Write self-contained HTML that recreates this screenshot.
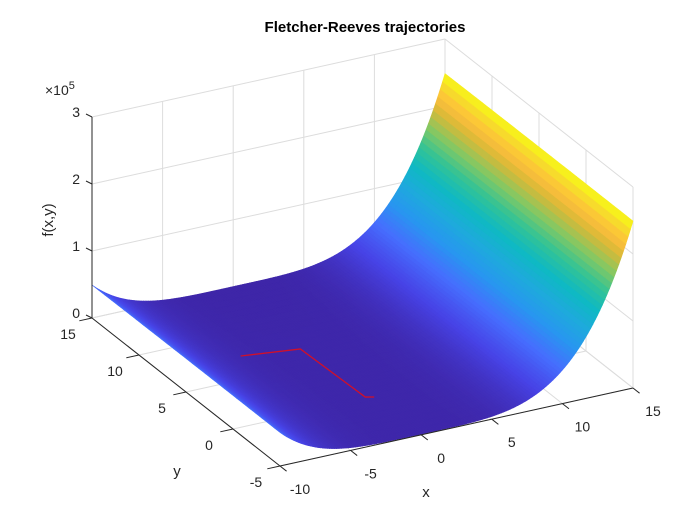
<!DOCTYPE html>
<html><head><meta charset="utf-8"><style>
body{margin:0;background:#fff;font-family:"Liberation Sans",Arial,sans-serif}
svg text{font-family:"Liberation Sans",Arial,sans-serif;fill:#262626}
</style></head><body>
<svg id="chart" width="700" height="525" viewBox="0 0 700 525" xmlns="http://www.w3.org/2000/svg">
<rect width="700" height="525" fill="#fff"/>
<text x="365" y="32" font-size="15" font-weight="bold" text-anchor="middle" style="fill:#000">Fletcher-Reeves trajectories</text>
<g id="grid"></g>
<g id="surf"></g>
<g id="traj"></g>
<g id="axes"></g>
</svg>
<script>
const xTicks=[-10,-5,0,5,10,15];
const yTicks=[-5,0,5,10,15];
const zTicks=[0,1,2,3];
const trajX=[-4.6,-0.7,-0.5,0.0];
const trajY=[7.3,6.8,0.2,0.0];
const xCoef=4.9, yCoef=-4;
function f(x,y){return xCoef*Math.pow(x,4)+yCoef*y*y+1200;}
const X0=-10,X1=15,Y0=-5,Y1=15,ZMAX=3e5;
function P(x,y,z){const a=(x-X0)/(X1-X0),b=(y-Y0)/(Y1-Y0),c=z/ZMAX;
 return [280+353*a-188*b, 466-78*a-148*b-201*c];}
function depth(x,y,z){return -0.378*(x-X0)/(X1-X0)-0.710*(y-Y0)/(Y1-Y0)+0.669*z/ZMAX;}
const NS='http://www.w3.org/2000/svg';
function mk(t,at,parent){const e=document.createElementNS(NS,t);for(const k in at)e.setAttribute(k,at[k]);parent.appendChild(e);return e;}
const grid=document.getElementById('grid'),axes=document.getElementById('axes');
const gc='#dcdcdc';
function line(p,q,col,w,parent,name){const l=mk('line',{x1:p[0],y1:p[1],x2:q[0],y2:q[1],stroke:col,'stroke-width':w},parent);
 
 }
xTicks.forEach(x=>{line(P(x,Y1,0),P(x,Y1,ZMAX),gc,1,grid,'grid-x-wall');line(P(x,Y0,0),P(x,Y1,0),gc,1,grid,'grid-x-floor');});
yTicks.forEach(y=>{line(P(X1,y,0),P(X1,y,ZMAX),gc,1,grid,'grid-y-wall');line(P(X0,y,0),P(X1,y,0),gc,1,grid,'grid-y-floor');});
zTicks.forEach(z=>{line(P(X0,Y1,z*1e5),P(X1,Y1,z*1e5),gc,1,grid,'grid-z-back');line(P(X1,Y1,z*1e5),P(X1,Y0,z*1e5),gc,1,grid,'grid-z-side');});
const stops=[[0,62,38,168],[0.1,71,67,230],[0.2,70,110,254],[0.3,40,150,240],[0.4,30,170,220],[0.5,15,185,195],[0.6,50,195,150],[0.7,130,200,100],[0.8,215,185,55],[0.87,254,190,60],[0.95,245,225,40],[1,249,251,20]];
function cmap(t){t=Math.max(0,Math.min(1,t));for(let i=1;i<stops.length;i++){if(t<=stops[i][0]){const a=stops[i-1],b=stops[i],u=(t-a[0])/(b[0]-a[0]);
 return 'rgb('+[1,2,3].map(k=>Math.round(a[k]+(b[k]-a[k])*u)).join(',')+')';}}return 'rgb(249,251,20)';}
const NX=150,NY=30;let zmin=Infinity,zmax=-Infinity;
for(let i=0;i<=NX;i++)for(let j=0;j<=NY;j++){const v=f(X0+(X1-X0)*i/NX,Y0+(Y1-Y0)*j/NY);zmin=Math.min(zmin,v);zmax=Math.max(zmax,v);}
const quads=[];
for(let i=0;i<NX;i++)for(let j=0;j<NY;j++){
 const xa=X0+(X1-X0)*i/NX,xb=X0+(X1-X0)*(i+1)/NX,ya=Y0+(Y1-Y0)*j/NY,yb=Y0+(Y1-Y0)*(j+1)/NY;
 const pts=[[xa,ya],[xb,ya],[xb,yb],[xa,yb]].map(p=>[p[0],p[1],f(p[0],p[1])]);
 const zc=pts.reduce((s,p)=>s+p[2],0)/4;
 quads.push({pts,zc,d:depth((xa+xb)/2,(ya+yb)/2,zc)});}
quads.sort((a,b)=>a.d-b.d);
const surf=document.getElementById('surf');
quads.forEach(q=>{const c=cmap((q.zc-zmin)/(zmax-zmin));
 const pg=mk('polygon',{points:q.pts.map(p=>P(p[0],p[1],p[2]).map(v=>v.toFixed(2)).join(',')).join(' '),fill:c,stroke:c,'stroke-width':0.6},surf);
 
 });
const tr=mk('polyline',{points:trajX.map((x,i)=>P(x,trajY[i],f(x,trajY[i])).join(',')).join(' '),fill:'none',stroke:'#d0102a','stroke-width':1.3},document.getElementById('traj'));


const ac='#262626';
line(P(X0,Y0,0),P(X1,Y0,0),ac,1,axes,'x-axis-line');
line(P(X0,Y0,0),P(X0,Y1,0),ac,1,axes,'y-axis-line');
line(P(X0,Y1,0),P(X0,Y1,ZMAX),ac,1,axes,'z-axis-line');
function txt(s,x,y,anchor,name,size){const t=mk('text',{x:x,y:y,'font-size':size||14,'text-anchor':anchor},axes);t.textContent=s;
 
 return t;}
xTicks.forEach(x=>{const p=P(x,Y0,0),q=P(x,Y0-0.7,0);line(p,q,ac,1,axes,'x-tick');txt(String(x),p[0]+20,p[1]+28,'middle','x-tick-label');});
yTicks.forEach(y=>{const p=P(X0,y,0),q=P(X0-0.9,y,0);line(p,q,ac,1,axes,'y-tick');txt(String(y),p[0]-24,p[1]+21,'middle','y-tick-label');});
zTicks.forEach(z=>{const p=P(X0,Y1,z*1e5);line(p,[p[0]-6,p[1]-3],ac,1,axes,'z-tick');txt(String(z),p[0]-12,p[1]+0,'end','z-tick-label');});
txt('x',426,497,'middle','x-axis-title',15);
txt('y',177,476,'middle','y-axis-title',15);
const zl=txt('f(x,y)',0,0,'middle','z-axis-title',15);zl.setAttribute('transform','translate(53,220) rotate(-90)');
const ex=txt('',45,95,'start','z-exponent',14);ex.innerHTML='×10<tspan dy="-6" font-size="11">5</tspan>';
</script>
</body></html>
